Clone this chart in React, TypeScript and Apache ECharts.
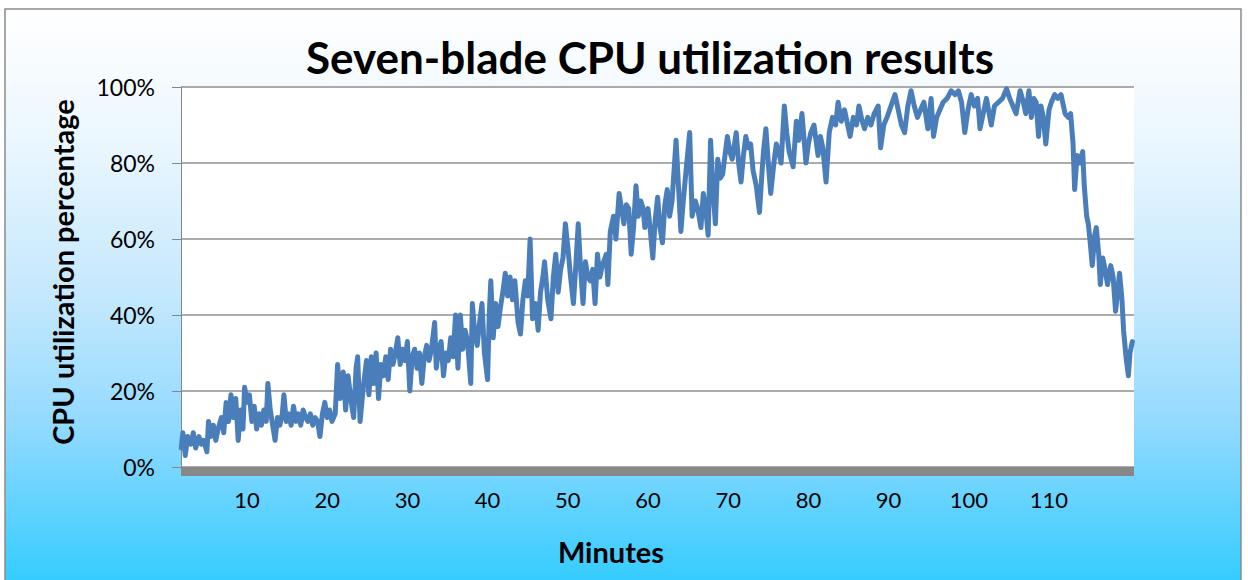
import React, { useEffect, useRef } from "react";
import * as echarts from "echarts";

const minutes = [
  1.8, 2.0, 2.3, 2.6, 3.0, 3.3, 3.6, 4.0, 4.3, 4.6, 5.0, 5.2, 5.5, 5.8, 6.1, 6.4, 6.8, 7.1, 7.4, 7.7,
  8.0, 8.3, 8.6, 8.9, 9.2, 9.5, 9.7, 10.0, 10.3, 10.6, 10.9, 11.2, 11.5, 11.8, 12.1, 12.4, 12.6, 12.9, 13.2, 13.5,
  13.8, 14.1, 14.4, 14.6, 14.9, 15.2, 15.5, 15.8, 16.1, 16.4, 16.7, 17.0, 17.3, 17.6, 17.9, 18.2, 18.5, 18.8, 19.1, 19.4,
  19.7, 20.0, 20.3, 20.6, 21.0, 21.3, 21.6, 22.0, 22.3, 22.6, 23.0, 23.3, 23.6, 23.8, 24.1, 24.5, 24.9, 25.2, 25.5, 25.8,
  26.1, 26.4, 26.7, 27.0, 27.3, 27.6, 27.9, 28.2, 28.5, 28.8, 29.1, 29.4, 29.7, 30.0, 30.3, 30.6, 30.9, 31.2, 31.5, 31.8,
  32.1, 32.4, 32.7, 33.0, 33.4, 33.6, 33.9, 34.2, 34.5, 34.8, 35.1, 35.4, 35.7, 36.0, 36.3, 36.6, 36.9, 37.2, 37.5, 37.9,
  38.1, 38.4, 38.7, 39.0, 39.3, 39.6, 40.0, 40.2, 40.4, 40.7, 41.0, 41.3, 41.6, 41.9, 42.2, 42.5, 42.8, 43.1, 43.4, 43.8,
  44.1, 44.4, 44.7, 45.0, 45.3, 45.6, 46.0, 46.3, 46.6, 46.9, 47.1, 47.5, 47.9, 48.2, 48.5, 48.8, 49.1, 49.4, 49.7, 50.0,
  50.3, 50.7, 51.0, 51.3, 51.6, 51.9, 52.2, 52.5, 52.8, 53.1, 53.4, 53.7, 54.0, 54.3, 54.8, 55.0, 55.3, 55.7, 56.0, 56.4,
  56.7, 57.0, 57.3, 57.6, 57.9, 58.2, 58.5, 58.8, 59.1, 59.4, 59.6, 60.0, 60.3, 60.6, 60.9, 61.2, 61.5, 61.8, 62.1, 62.4,
  62.7, 63.0, 63.5, 63.8, 64.1, 64.4, 64.7, 65.2, 65.5, 65.9, 66.2, 66.6, 66.9, 67.2, 67.5, 67.8, 68.1, 68.4, 68.7, 69.0,
  69.3, 69.6, 69.9, 70.2, 70.5, 71.0, 71.3, 71.6, 71.9, 72.2, 72.5, 72.8, 73.1, 73.5, 73.9, 74.2, 74.4, 74.7, 75.0, 75.3,
  75.7, 76.0, 76.3, 76.6, 77.0, 77.3, 77.6, 78.1, 78.5, 78.8, 79.2, 79.7, 80.0, 80.3, 80.7, 81.2, 81.5, 81.8, 82.2, 82.6,
  83.0, 83.4, 83.7, 84.1, 84.5, 84.9, 85.2, 85.6, 86.0, 86.3, 86.7, 87.0, 87.4, 87.8, 88.2, 88.7, 89.0, 89.4, 89.8, 90.3,
  90.8, 91.2, 91.6, 92.0, 92.4, 92.8, 93.2, 93.6, 94.0, 94.4, 94.9, 95.3, 95.6, 96.0, 96.4, 96.8, 97.3, 97.8, 98.3, 98.7,
  99.1, 99.5, 99.9, 100.3, 100.7, 101.1, 101.4, 101.8, 102.2, 102.8, 103.2, 103.7, 104.2, 104.7, 105.1, 105.5, 105.9, 106.4, 106.8, 107.1,
  107.5, 107.8, 108.1, 108.4, 108.7, 109.0, 109.3, 109.6, 110.0, 110.3, 110.7, 111.1, 111.5, 112.0, 112.4, 112.7, 113.0, 113.2, 113.5, 113.8,
  114.2, 114.4, 114.7, 114.9, 115.1, 115.4, 115.7, 115.9, 116.2, 116.4, 116.7, 117.0, 117.3, 117.7, 118.0, 118.3, 118.6, 118.8, 119.1, 119.3,
  119.6, 119.9, 120.1, 120.4,
];

const cpu = [
  5, 9, 3, 8, 6, 9, 5, 8, 6, 7, 4, 12, 8, 11, 7, 10, 13, 9, 17, 12,
  19, 13, 18, 7, 15, 10, 21, 17, 19, 12, 16, 10, 14, 11, 15, 12, 22, 15, 11, 7,
  13, 11, 14, 19, 12, 14, 11, 16, 12, 14, 11, 15, 13, 12, 14, 11, 13, 12, 8, 14,
  17, 13, 15, 12, 14, 27, 18, 25, 15, 24, 17, 13, 26, 29, 12, 21, 28, 19, 29, 22,
  30, 18, 27, 24, 29, 23, 31, 27, 30, 34, 27, 31, 28, 33, 20, 29, 31, 26, 30, 22,
  29, 32, 28, 31, 38, 26, 31, 33, 24, 30, 28, 34, 29, 40, 26, 40, 31, 36, 33, 22,
  43, 35, 32, 38, 43, 30, 23, 40, 49, 34, 43, 37, 42, 46, 51, 45, 50, 44, 49, 38,
  35, 44, 49, 45, 60, 39, 43, 36, 46, 50, 54, 44, 39, 50, 56, 46, 52, 55, 64, 58,
  51, 43, 53, 64, 52, 43, 54, 50, 49, 52, 43, 56, 50, 53, 56, 48, 62, 66, 60, 72,
  68, 64, 69, 68, 56, 63, 74, 66, 70, 68, 63, 68, 62, 55, 65, 71, 63, 59, 69, 73,
  66, 70, 86, 74, 62, 70, 77, 88, 66, 70, 68, 63, 72, 68, 61, 86, 73, 64, 81, 76,
  77, 82, 87, 83, 81, 88, 80, 75, 82, 87, 84, 85, 78, 74, 67, 77, 83, 89, 80, 72,
  80, 85, 83, 80, 95, 88, 83, 79, 91, 86, 93, 80, 85, 88, 90, 82, 87, 84, 75, 88,
  92, 90, 96, 91, 94, 90, 87, 92, 90, 95, 91, 89, 92, 90, 93, 95, 84, 90, 92, 95,
  98, 94, 90, 88, 95, 99, 95, 92, 94, 96, 89, 97, 87, 92, 94, 96, 97, 99, 98, 99,
  96, 88, 94, 98, 95, 97, 89, 93, 97, 90, 95, 96, 97, 99.5, 97, 95, 93, 99, 96, 93,
  99, 92, 97, 96, 87, 95, 92, 85, 94, 96, 98, 97, 98, 93, 92, 93, 85, 73, 82, 80,
  83, 74, 66, 64, 60, 53, 61, 63, 56, 48, 55, 52, 48, 53, 50, 41, 47, 51, 44, 36,
  29, 24, 30, 33,
];

const xTickValues = [10, 20, 30, 40, 50, 60, 70, 80, 90, 100, 110];

const titleText = "Seven-blade CPU utilization results";
const xTitle = "Minutes";
const yTitle = "CPU utilization percentage";

export default function App() {
  const ref = useRef<HTMLDivElement>(null);

  useEffect(() => {
    document.body.style.margin = "0";
    const chart = echarts.init(ref.current!, undefined, { renderer: "svg" });
    const font = "Lato, 'Noto Sans', sans-serif";
    const data = minutes.map((m, i) => [m, cpu[i]]);
    chart.setOption({
      animation: false,
      graphic: [
        {
          type: "rect",
          z: -10,
          silent: true,
          shape: { x: 5, y: 9, width: 1236, height: 575 },
          style: {
            fill: new echarts.graphic.LinearGradient(0, 0, 0, 1, [
              { offset: 0, color: "#FFFFFF" },
              { offset: 0.22, color: "#ECF7FE" },
              { offset: 0.5, color: "#C4E8FD" },
              { offset: 0.72, color: "#93DAFF" },
              { offset: 1, color: "#33CCFF" },
            ]),
            stroke: "#8A8A8A",
            lineWidth: 1.5,
          },
        },
        {
          type: "text",
          x: 62,
          y: 272,
          rotation: Math.PI / 2,
          silent: true,
          style: {
            text: yTitle,
            fontFamily: font,
            fontWeight: "bold",
            fontSize: 29,
            fill: "#000",
            align: "center",
            verticalAlign: "middle",
          },
        },
        {
          type: "text",
          x: 611,
          y: 551,
          silent: true,
          style: {
            text: xTitle,
            fontFamily: font,
            fontWeight: "bold",
            fontSize: 29,
            fill: "#000",
            align: "center",
            verticalAlign: "middle",
          },
        },
      ],
      title: {
        text: titleText,
        left: 645,
        textAlign: "center",
        top: 30,
        textStyle: { fontFamily: font, fontWeight: "bold", fontSize: 44, color: "#000" },
      },
      grid: {
        left: 181,
        right: 114,
        top: 87,
        bottom: 113,
        show: true,
        backgroundColor: "#FFFFFF",
        borderWidth: 0,
      },
      xAxis: {
        type: "value",
        min: 1.77,
        max: 120.6,
        offset: 4,
        axisLine: { show: true, onZero: false, lineStyle: { color: "#878787", width: 9, cap: "butt" } },
        axisTick: { show: false },
        splitLine: { show: false },
        axisLabel: {
          customValues: xTickValues,
          margin: 17,
          fontFamily: font,
          fontSize: 22,
          color: "#000",
        },
      },
      yAxis: {
        type: "value",
        min: 0,
        max: 100,
        interval: 20,
        axisLine: { show: true, lineStyle: { color: "#868686", width: 1 } },
        axisTick: { show: true, length: 9, inside: false, lineStyle: { color: "#868686" } },
        splitLine: { show: true, lineStyle: { color: "#8F8F8F", width: 1.5 } },
        axisLabel: {
          formatter: "{value}%",
          margin: 26,
          fontFamily: font,
          fontSize: 23,
          color: "#000",
        },
      },
      series: [
        {
          type: "line",
          data,
          showSymbol: false,
          symbol: "none",
          lineStyle: { color: "#4A7EBB", width: 5, cap: "round", join: "round" },
        },
      ],
    });
    return () => chart.dispose();
  }, []);

  return <div ref={ref} style={{ width: 1248, height: 580 }} />;
}
